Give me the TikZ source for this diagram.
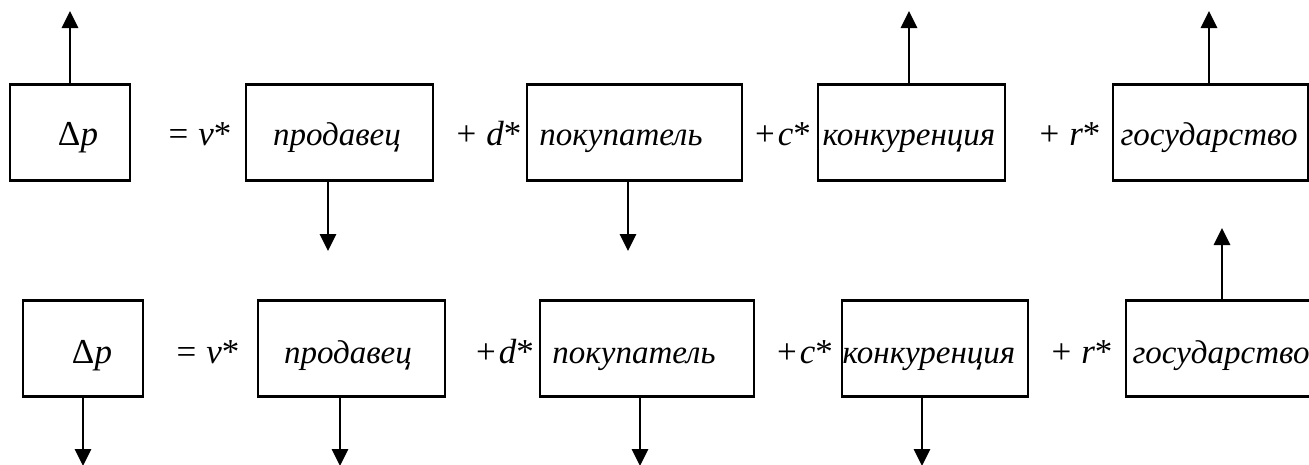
\documentclass[tikz,border=0pt]{standalone}
\usepackage{fontspec}
\setmainfont{Liberation Serif}
\usetikzlibrary{arrows.meta}
\newcommand{\gapA}{\hspace{10pt}}
\newcommand{\gapB}{\hspace{3pt}}
\begin{document}
\begin{tikzpicture}[x=1pt,y=-1pt,
  box/.style={draw,line width=2.8pt,inner sep=0pt,minimum height=96pt},
  lbl/.style={anchor=base,inner sep=0pt,font=\fontsize{33}{36}\selectfont\itshape},
  op/.style={anchor=base,inner sep=0pt,font=\fontsize{35}{38}\selectfont},
  arr/.style={line width=2.8pt,-{Triangle[length=17pt,width=16pt]}}]
\useasboundingbox (0,0) rectangle (1309,464);
\clip (0,0) rectangle (1309,464);
% top row
\node[box,minimum width=120pt] (dp1) at (70,132.5) {};
\node[box,minimum width=187pt] (s1) at (339.5,132.5) {};
\node[box,minimum width=215pt] (b1) at (634.5,132.5) {};
\node[box,minimum width=187pt] (k1) at (911.5,132.5) {};
\node[box,minimum width=195pt] (g1) at (1210.5,132.5) {};
\node[op] (tdp1) at (78,145) {Δ\textit{p}};
\node[op] (te1) at (200,145) {=\gapA\textit{v}*};
\node[lbl] (ts1) at (337,145) {продавец};
\node[op] (td1) at (489,145) {+\gapA\textit{d}*};
\node[lbl] (tb1) at (621,145) {покупатель};
\node[op] (tc1) at (783,145) {+\gapB\textit{c}*};
\node[lbl] (tk1) at (909,145) {конкуренция};
\node[op] (tr1) at (1070,145) {+\gapA\textit{r}*};
\node[lbl] (tg1) at (1209,145) {государство};
\coordinate (u1) at (70,11);
\coordinate (u2) at (328,251);
\coordinate (u3) at (628,251);
\coordinate (u4) at (909,11);
\coordinate (u5) at (1209,11);
\draw[arr] (dp1.north) -- (u1);
\draw[arr] (s1.south -| u2) -- (u2);
\draw[arr] (b1.south -| u3) -- (u3);
\draw[arr] (k1.north -| u4) -- (u4);
\draw[arr] (g1.north -| u5) -- (u5);
% bottom row
\node[box,minimum width=120pt] (dp2) at (83,348.5) {};
\node[box,minimum width=187pt] (s2) at (351.5,348.5) {};
\node[box,minimum width=214pt] (b2) at (647,348.5) {};
\node[box,minimum width=186pt] (k2) at (935,348.5) {};
\node[box,minimum width=196pt] (g2) at (1224,348.5) {};
\node[op] (tdp2) at (92,363) {Δ\textit{p}};
\node[op] (te2) at (208,363) {=\gapA\textit{v}*};
\node[lbl] (ts2) at (348,363) {продавец};
\node[op] (td2) at (505,363) {+\gapB\textit{d}*};
\node[lbl] (tb2) at (634,363) {покупатель};
\node[op] (tc2) at (805,363) {+\gapB\textit{c}*};
\node[lbl] (tk2) at (929,363) {конкуренция};
\node[op] (tr2) at (1082,363) {+\gapA\textit{r}*};
\node[lbl] (tg2) at (1221,363) {государство};
\coordinate (v1) at (83,466);
\coordinate (v2) at (340,466);
\coordinate (v3) at (640,466);
\coordinate (v4) at (922,466);
\coordinate (v5) at (1222,228);
\draw[arr] (dp2.south) -- (v1);
\draw[arr] (s2.south -| v2) -- (v2);
\draw[arr] (b2.south -| v3) -- (v3);
\draw[arr] (k2.south -| v4) -- (v4);
\draw[arr] (g2.north -| v5) -- (v5);
\end{tikzpicture}
\end{document}
